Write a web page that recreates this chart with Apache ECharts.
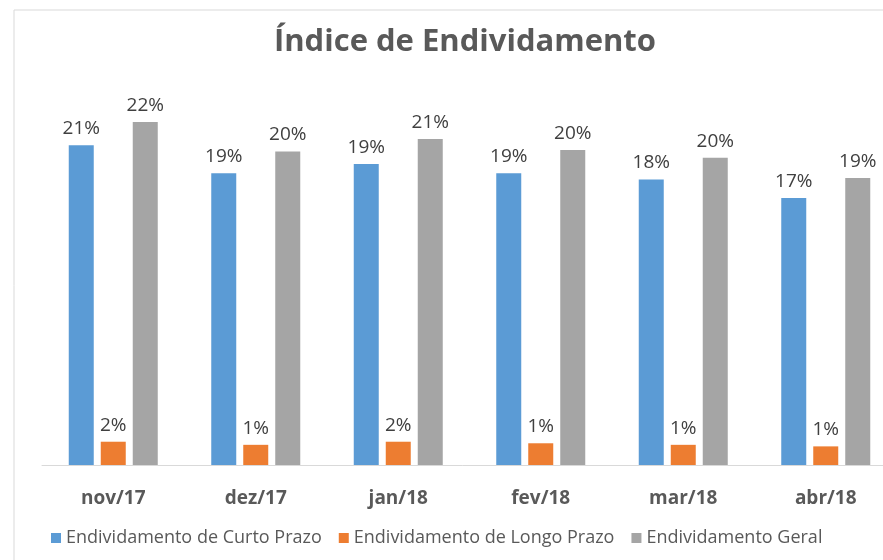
<!DOCTYPE html>
<html>
<head>
<meta charset="utf-8">
<script src="https://cdn.jsdelivr.net/npm/echarts@6/dist/echarts.min.js"></script>
<style>
  html, body { margin: 0; padding: 0; background: #fff; }
  #chart { width: 883px; height: 560px; }
</style>
</head>
<body>
<div id="chart"></div>
<script>
// dados (em %)
var meses = ['nov/17', 'dez/17', 'jan/18', 'fev/18', 'mar/18', 'abr/18'];
var curtoPrazo = [20.6, 18.8, 19.4, 18.8, 18.4, 17.2];
var longoPrazo = [1.5, 1.3, 1.5, 1.4, 1.3, 1.2];
var geral = [22.1, 20.2, 21.0, 20.3, 19.8, 18.5];

(function () {
    var myChart = echarts.init(document.getElementById('chart'));
    var fonte = '"Open Sans", "Noto Sans", sans-serif';

    // rótulo em cima de cada barra
    var rotulo = {
        show: true,
        position: 'top',
        distance: 7,
        color: '#404040',
        fontSize: 19,
        fontFamily: fonte,
        formatter: function (p) {
            return Math.round(p.value) + '%';
        }
    };

    var option = {
        animation: false,
        backgroundColor: '#fff',
        title: {
            text: 'Índice de Endividamento',
            left: 460,
            textAlign: 'center',
            top: 22,
            textStyle: {
                color: '#595959',
                fontSize: 31,
                fontWeight: 'bold',
                fontFamily: fonte
            }
        },
        // moldura do gráfico
        graphic: [{
            type: 'rect',
            shape: { x: 14, y: 10, width: 900, height: 600 },
            style: { fill: 'none', stroke: '#d9d9d9', lineWidth: 1 },
            silent: true
        }],
        legend: {
            left: 46,
            bottom: 8,
            itemWidth: 10,
            itemHeight: 10,
            itemGap: 17,
            icon: 'rect',
            textStyle: {
                color: '#595959',
                fontSize: 18,
                fontFamily: fonte
            }
        },
        grid: {
            left: 42,
            top: 77,
            width: 855,
            height: 388,
            outerBoundsMode: 'none'
        },
        xAxis: {
            type: 'category',
            data: meses,
            axisLine: { lineStyle: { color: '#d9d9d9', width: 1 } },
            axisTick: { show: false },
            axisLabel: {
                color: '#595959',
                fontSize: 19,
                fontWeight: 'bold',
                fontFamily: fonte,
                margin: 24
            }
        },
        yAxis: {
            type: 'value',
            min: 0,
            max: 25,
            show: false,
            splitLine: { show: false }
        },
        series: [
            {
                name: 'Endividamento de Curto Prazo',
                type: 'bar',
                barWidth: 25,
                barGap: '28%',
                itemStyle: { color: '#5b9bd5' },
                label: rotulo,
                data: curtoPrazo
            },
            {
                name: 'Endividamento de Longo Prazo',
                type: 'bar',
                barWidth: 25,
                barGap: '28%',
                itemStyle: { color: '#ed7d31' },
                label: rotulo,
                data: longoPrazo
            },
            {
                name: 'Endividamento Geral',
                type: 'bar',
                barWidth: 25,
                barGap: '28%',
                itemStyle: { color: '#a5a5a5' },
                label: rotulo,
                data: geral
            }
        ]
    };

    myChart.setOption(option);
})();
</script>
</body>
</html>
